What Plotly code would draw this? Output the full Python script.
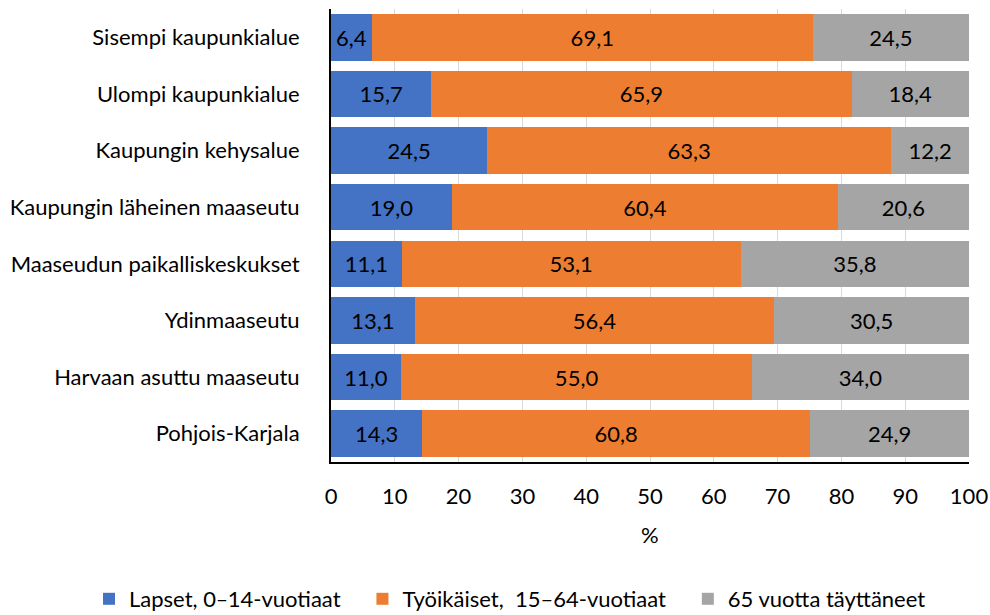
import plotly.graph_objects as go

categories = ["Sisempi kaupunkialue", "Ulompi kaupunkialue", "Kaupungin kehysalue",
              "Kaupungin läheinen maaseutu", "Maaseudun paikalliskeskukset",
              "Ydinmaaseutu", "Harvaan asuttu maaseutu", "Pohjois-Karjala"]
lapset = [6.4, 15.7, 24.5, 19.0, 11.1, 13.1, 11.0, 14.3]
tyoikaiset = [69.1, 65.9, 63.3, 60.4, 53.1, 56.4, 55.0, 60.8]
vanhat = [24.5, 18.4, 12.2, 20.6, 35.8, 30.5, 34.0, 24.9]
series_names = ["Lapset, 0‒14-vuotiaat", "Työikäiset,\u00a0 15–64-vuotiaat", "65 vuotta täyttäneet"]
colors = ["#4472C4", "#ED7D31", "#A5A5A5"]
xticks = [0, 10, 20, 30, 40, 50, 60, 70, 80, 90, 100]
x_title = "%"

FONT = "Lato, Carlito, Calibri, sans-serif"
FS = 22

L, R, T, B = 331, 21, 9, 153
W, H = 990, 615
PW, PH = W - L - R, H - T - B
PAD = "\u00a0\u00a0\u00a0"

fig = go.Figure()
for i, (name, vals, col) in enumerate(zip(series_names, [lapset, tyoikaiset, vanhat], colors)):
    fig.add_trace(go.Bar(
        y=categories, x=vals, name=name + (PAD if i < 2 else ""), orientation="h",
        marker=dict(color=col, line=dict(width=0)),
        texttemplate="%{x:.1f}", textposition="inside", insidetextanchor="middle",
        textangle=0, constraintext="none",
        textfont=dict(color="black", size=FS, family=FONT),
    ))

fig.update_layout(
    barmode="stack", bargap=0.18,
    width=W, height=H,
    margin=dict(l=L, r=R, t=T, b=B, autoexpand=False),
    plot_bgcolor="white", paper_bgcolor="white",
    separators=", ",
    font=dict(family=FONT, size=FS, color="black"),
    showlegend=True,
    legend=dict(orientation="h", xref="paper", yref="paper",
                x=(89 - L) / PW, xanchor="left",
                y=-(599 - (H - B)) / PH, yanchor="middle",
                font=dict(size=FS), traceorder="normal", itemwidth=30),
    uniformtext=dict(mode=False),
    annotations=[dict(text=x_title, xref="paper", yref="paper", x=0.5,
                      y=-(534 - (H - B)) / PH, yanchor="middle", showarrow=False,
                      font=dict(size=FS))],
)
fig.update_xaxes(range=[0, 100], tickvals=xticks, ticktext=[str(t) for t in xticks],
                 showgrid=True, gridcolor="#D9D9D9", gridwidth=1,
                 showline=True, linecolor="black", linewidth=2,
                 ticks="", ticklabelstandoff=14, zeroline=False, automargin=False,
                 tickfont=dict(size=FS))
fig.update_yaxes(autorange="reversed", showline=True, linecolor="black", linewidth=2,
                 ticks="", ticklabelstandoff=25, showgrid=False, automargin=False,
                 tickfont=dict(size=FS))

fig.write_html("out.html", config={"displayModeBar": False},
               post_script="document.body.style.margin='0';document.body.style.overflow='hidden';")
